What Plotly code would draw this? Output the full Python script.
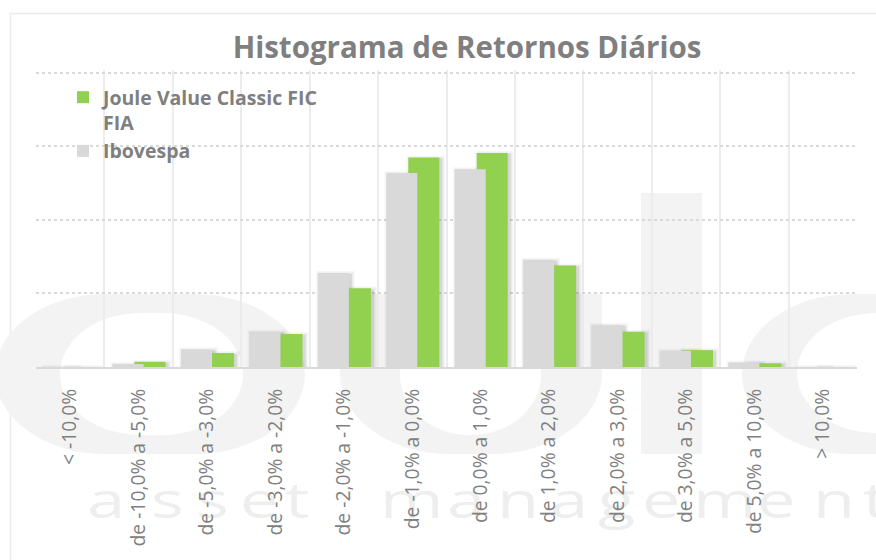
import base64
import plotly.graph_objects as go

# ---------------- data ----------------
categories = ["< -10,0%", "de -10,0% a -5,0%", "de -5,0% a -3,0%", "de -3,0% a -2,0%",
              "de -2,0% a -1,0%", "de -1,0% a 0,0%", "de 0,0% a 1,0%", "de 1,0% a 2,0%",
              "de 2,0% a 3,0%", "de 3,0% a 5,0%", "de 5,0% a 10,0%", "> 10,0%"]
joule_values = [0.0, 0.7, 1.9, 4.5, 10.7, 28.5, 29.1, 13.8, 4.8, 2.3, 0.5, 0.0]
ibov_values = [0.0, 0.4, 2.4, 4.8, 12.8, 26.4, 26.9, 14.6, 5.7, 2.2, 0.6, 0.0]
series_names = ["Joule Value Classic FIC<br>FIA", "Ibovespa"]
title_text = "Histograma de Retornos Diários"

W, H = 876, 560
ML, MR, MT, MB = 36, 19, 70, 193
PW, PH = W - ML - MR, H - MT - MB
Y_TOP = 40.4                  # top gridline at 40 sits 3px inside the plot area
PX_X = PW / len(categories)   # pixels per category unit
PX_Y = PH / Y_TOP             # pixels per value unit

GREEN = "#92d050"
GRAY = "#d9d9d9"
TXT = "#7f7f7f"

# bar geometry (category units)
GREEN_OFF, GRAY_OFF, BAR_W = -0.058, -0.38, 0.453

# ---------------- watermark (background logo) ----------------
wm = "#f3f3f3"
wm_text = "asset management"
wm_glyph_px = [87, 151, 196, 240, 285, 330, 380, 447, 497, 550, 598, 642, 693, 757, 813, 863]
SX = 1.4
wm_x = " ".join(f"{p / SX:.1f}" for p in wm_glyph_px)
svg = f'''<svg xmlns="http://www.w3.org/2000/svg" width="{W}" height="{H}" viewBox="0 0 {W} {H}">
<rect x="10.5" y="13.5" width="1000" height="1000" fill="none" stroke="#ececec" stroke-width="1.5"/>
<path fill="{wm}" fill-rule="evenodd" d="M105,294 H195 A110 80 0 0 1 305,374 A110 80 0 0 1 195,454 H105 A110 80 0 0 1 -5,374 A110 80 0 0 1 105,294 Z
 M140,313 H163 A80 61 0 0 1 243,374 A80 61 0 0 1 163,435 H140 A80 61 0 0 1 60,374 A80 61 0 0 1 140,313 Z"/>
<path fill="{wm}" fill-rule="evenodd" d="M340,294 H602 V374 A110 80 0 0 1 492,454 H450 A110 80 0 0 1 340,374 Z
 M400,294 H541 V375 A70 60 0 0 1 471,435 H470 A70 60 0 0 1 400,375 Z"/>
<rect x="641" y="193" width="61" height="261" fill="{wm}"/>
<path fill="{wm}" fill-rule="evenodd" d="M1100,294 H852 A110 80 0 0 0 742,374 A110 80 0 0 0 852,454 H1100 Z
 M1100,313 H877 A80 60 0 0 0 797,373 A80 60 0 0 0 877,433 H1100 Z"/>
<g transform="scale({SX},1)">
<text x="{wm_x}" y="518" font-family="Open Sans, DejaVu Sans, sans-serif" font-weight="400" font-size="49"
 fill="#eeeeee">{wm_text}</text>
</g>
</svg>'''
svg_uri = "data:image/svg+xml;base64," + base64.b64encode(svg.encode("utf-8")).decode("ascii")

# ---------------- figure ----------------
fig = go.Figure()

# soft drop shadows (blur approximated by stacked translucent layers, shifted right)
SHIFT = 2.0
for vals, off in ((ibov_values, GRAY_OFF), (joule_values, GREEN_OFF)):
    for e, a in ((4.0, 0.03), (2.5, 0.05), (1.0, 0.08)):
        ex, sx = e / PX_X, SHIFT / PX_X
        fig.add_trace(go.Bar(
            x=categories, y=[v + (2 * e - 2) / PX_Y for v in vals], base=-e / PX_Y,
            offset=off - ex + sx, width=BAR_W + 2 * ex,
            marker=dict(color=f"rgba(0,0,0,{a})", line=dict(width=0)),
            showlegend=False, hoverinfo="skip"))

fig.add_trace(go.Bar(x=categories, y=joule_values, name=series_names[0],
                     marker=dict(color=GREEN, line=dict(width=0)),
                     offset=GREEN_OFF, width=BAR_W))
fig.add_trace(go.Bar(x=categories, y=ibov_values, name=series_names[1],
                     marker=dict(color=GRAY, line=dict(width=0)),
                     offset=GRAY_OFF, width=BAR_W))

fig.update_layout(
    width=W, height=H,
    margin=dict(l=ML, r=MR, t=MT, b=MB, pad=0),
    paper_bgcolor="white",
    plot_bgcolor="rgba(0,0,0,0)",
    barmode="overlay",
    font=dict(family="Open Sans, sans-serif", color=TXT),
    title=dict(text=title_text, x=467 / W, xref="container", xanchor="center",
               y=1 - 48 / H, yref="container", yanchor="middle",
               font=dict(family="Open Sans", size=29.5, color=TXT, weight="bold")),
    legend=dict(x=(63 - ML) / PW, y=1 - (78 - MT) / PH, xanchor="left", yanchor="top",
                bgcolor="rgba(0,0,0,0)", valign="top", traceorder="normal",
                font=dict(family="Open Sans", size=19.5, color=TXT, weight="bold")),
    xaxis=dict(type="category", range=[-0.5, len(categories) - 0.5],
               tickson="boundaries", showgrid=True, gridcolor="#ececec", gridwidth=2,
               ticks="", tickangle=-90, ticklabelstandoff=12,
               tickfont=dict(family="Open Sans", size=19.3, color="#808080"),
               showline=True, linecolor="#d9d9d9", linewidth=2, zeroline=False),
    yaxis=dict(range=[0, Y_TOP], tickvals=[10, 20, 30, 40], showgrid=True,
               gridcolor="#d9d9d9", griddash="dot", gridwidth=1.5,
               showticklabels=False, zeroline=False, showline=False, ticks=""),
    images=[dict(source=svg_uri, xref="paper", yref="paper",
                 x=-ML / PW, y=1 + MT / PH, sizex=W / PW, sizey=H / PH,
                 xanchor="left", yanchor="top", sizing="stretch", layer="below")],
)

fig.write_html("out.html", config={"displayModeBar": False},
               post_script="document.body.style.margin='0';")
